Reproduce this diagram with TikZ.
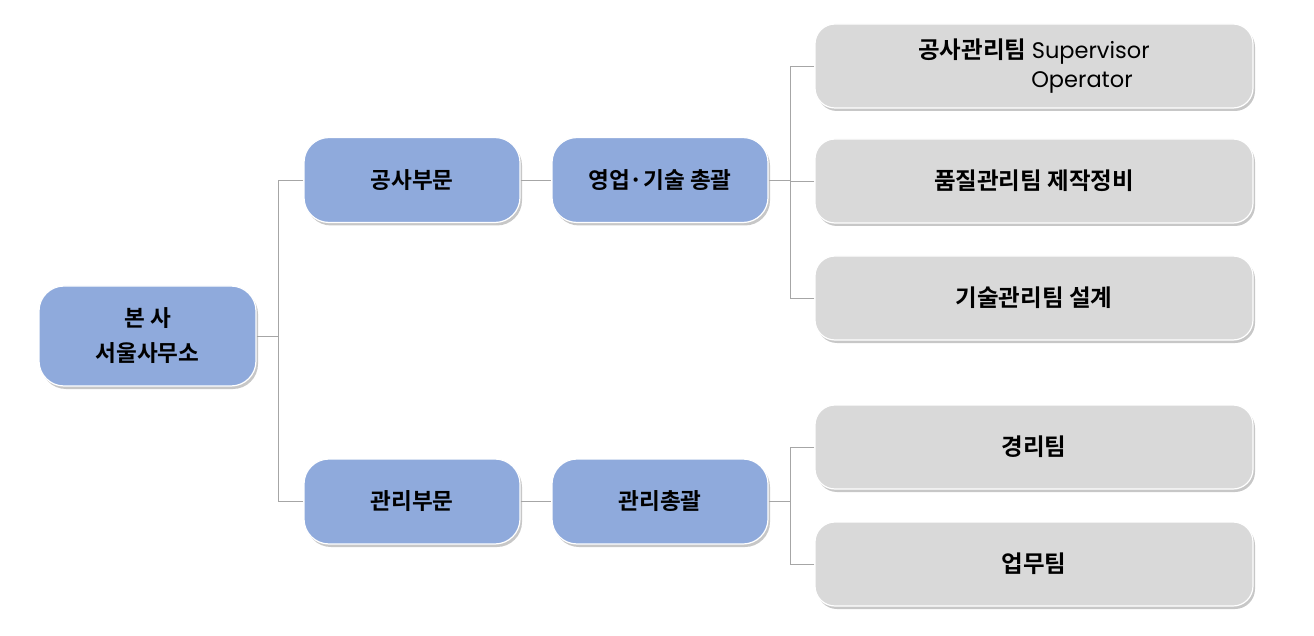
\documentclass[tikz,border=0pt]{standalone}
\usepackage{fontspec}
\setmainfont{Noto Sans CJK KR}[BoldFont={Noto Sans CJK KR Bold}]
\newfontfamily\latinfont{Poppins}
\usetikzlibrary{shadows}
\definecolor{bluefill}{HTML}{8FAADC}
\definecolor{grayfill}{HTML}{D9D9D9}
\definecolor{linegray}{HTML}{A6A6A6}
\tikzset{
  boxbase/.style={rectangle, draw=white, line width=1.2pt, align=center,
    drop shadow={shadow xshift=2pt, shadow yshift=-3pt, fill=black, opacity=0.22}},
  bluebox/.style={boxbase, fill=bluefill, minimum width=216pt, minimum height=85pt, rounded corners=25pt,
    font=\fontsize{22.6}{28}\selectfont\bfseries},
  graybox/.style={boxbase, fill=grayfill, minimum width=438pt, minimum height=84pt, rounded corners=20pt,
    font=\fontsize{23.5}{29}\selectfont\bfseries},
  latintext/.style={},
  conn/.style={draw=linegray, line width=0.8pt}
}
\newcommand{\lat}[1]{{\latinfont\mdseries\fontsize{22.5}{29}\selectfont #1}}
\begin{document}
\begin{tikzpicture}[x=1pt,y=-1pt]
\useasboundingbox (0,0) rectangle (1314,636);
\node[bluebox, minimum width=217pt, minimum height=100pt, font=\fontsize{22.6}{35}\selectfont\bfseries] (bonsa) at (147.5,336) {본 사\\서울사무소};
\node[bluebox] (gongsa) at (412,180) {공사부문};
\node[bluebox] (gwanri) at (412,501.5) {관리부문};
\node[bluebox] (yeongeop) at (660,180) {영업·기술 총괄};
\node[bluebox] (gwanchong) at (660,501.5) {관리총괄};
\node[graybox] (g1) at (1034,66) {공사관리팀 \lat{Supervisor}\\\hspace*{96pt}\lat{Operator}};
\node[graybox] (g2) at (1034,181) {품질관리팀 제작정비};
\node[graybox] (g3) at (1034,298) {기술관리팀 설계};
\node[graybox] (g4) at (1034,447) {경리팀};
\node[graybox] (g5) at (1034,564) {업무팀};
\coordinate (j1) at ([xshift=22pt]bonsa.east);
\coordinate (j2) at ([xshift=22pt]yeongeop.east);
\coordinate (j3) at ([xshift=22pt]gwanchong.east);
\draw[conn] (bonsa.east) -- (j1);
\draw[conn] (gongsa.west) -| (j1);
\draw[conn] (gwanri.west) -| (j1);
\draw[conn] (gongsa.east) -- (yeongeop.west);
\draw[conn] (gwanri.east) -- (gwanchong.west);
\draw[conn] (yeongeop.east) -- (j2);
\draw[conn] (g1.west) -| (j2);
\draw[conn] (g2.west) -| (j2);
\draw[conn] (g3.west) -| (j2);
\draw[conn] (gwanchong.east) -- (j3);
\draw[conn] (g4.west) -| (j3);
\draw[conn] (g5.west) -| (j3);
\end{tikzpicture}
\end{document}
